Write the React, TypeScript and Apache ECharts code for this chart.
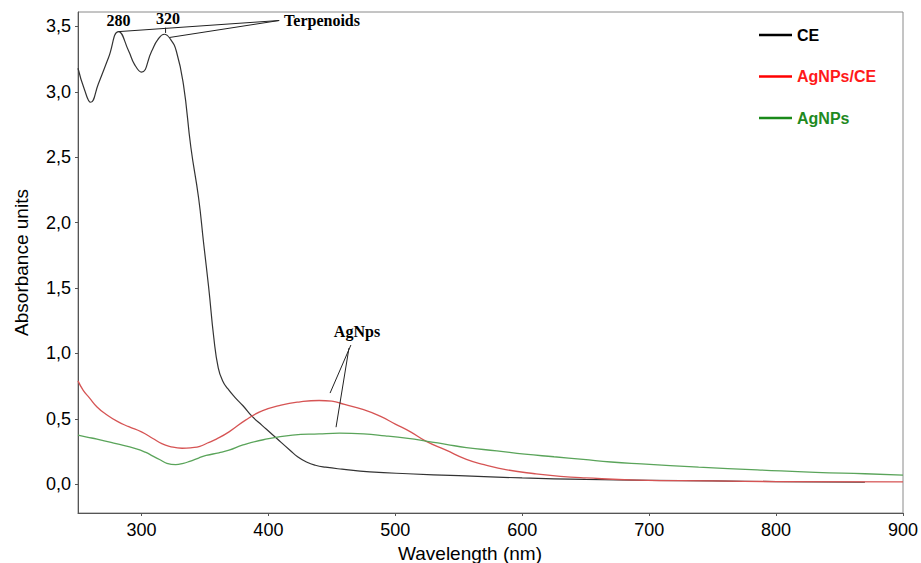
import React, { useEffect, useRef } from "react";
import * as echarts from "echarts";

const xTicks = [300, 400, 500, 600, 700, 800, 900];
const yTicks = [0, 0.5, 1.0, 1.5, 2.0, 2.5, 3.0, 3.5];

const ceData: [number, number][] = [
  [250, 3.18], [255, 3.02], [260, 2.92], [266, 3.06], [274, 3.26], [282, 3.46],
  [290, 3.31], [294.5, 3.21], [300, 3.15], [308, 3.31], [313, 3.40], [318, 3.44],
  [323, 3.40], [327.5, 3.31], [333, 3.06], [339, 2.57], [345, 2.19], [349, 1.84],
  [353, 1.50], [357, 1.12], [360.5, 0.89], [364, 0.79], [368, 0.73], [374, 0.66],
  [380, 0.60], [387, 0.52], [395, 0.45], [402, 0.39], [410, 0.32], [417, 0.26],
  [423, 0.21], [430, 0.17], [437, 0.145], [445, 0.13], [458, 0.115], [480, 0.095],
  [510, 0.08], [550, 0.065], [600, 0.048], [650, 0.037], [700, 0.03], [750, 0.025],
  [800, 0.02], [870, 0.015],
];

const agCeData: [number, number][] = [
  [250, 0.79], [254, 0.72], [259, 0.66], [265, 0.59], [272, 0.535], [281, 0.48],
  [290, 0.44], [300, 0.40], [309, 0.35], [316, 0.31], [322, 0.29], [332, 0.275],
  [340, 0.28], [346, 0.29], [352, 0.315], [359, 0.345], [369, 0.40], [382, 0.49],
  [395, 0.56], [410, 0.605], [425, 0.63], [440, 0.64], [450, 0.635], [460, 0.61],
  [475, 0.57], [488, 0.52], [500, 0.46], [512, 0.40], [524, 0.33], [540, 0.26],
  [556, 0.19], [570, 0.15], [588, 0.11], [610, 0.08], [630, 0.06], [650, 0.048],
  [690, 0.032], [750, 0.025], [800, 0.02], [900, 0.018],
];

const agData: [number, number][] = [
  [250, 0.375], [257, 0.36], [265, 0.345], [280, 0.31], [296, 0.27], [303, 0.245],
  [309, 0.215], [315, 0.185], [320, 0.16], [327, 0.15], [333, 0.16], [338, 0.175],
  [345, 0.2], [351, 0.22], [361, 0.24], [369, 0.26], [380, 0.30], [396, 0.34],
  [419, 0.375], [440, 0.385], [456, 0.39], [475, 0.385], [492, 0.37], [510, 0.35],
  [524, 0.33], [540, 0.305], [556, 0.28], [580, 0.255], [602, 0.23], [625, 0.21],
  [648, 0.19], [670, 0.17], [694, 0.155], [739, 0.13], [785, 0.11], [831, 0.09],
  [870, 0.08], [900, 0.07],
];

const annoTexts = [
  { text: "280", at: [282, 3.545], align: "center" },
  { text: "320", at: [321, 3.56], align: "center" },
  { text: "Terpenoids", at: [412.4, 3.545], align: "left" },
  { text: "AgNps", at: [469.8, 1.17], align: "center" },
];

const annoLines: [number, number][][] = [
  [[408.5, 3.545], [282, 3.46]],
  [[408.5, 3.545], [322, 3.415]],
  [[319, 3.49], [319, 3.45]],
  [[465, 1.064], [448.6, 0.697]],
  [[463.5, 1.041], [453.3, 0.436]],
];

const fmt = (v: number) => v.toFixed(1).replace(".", ",");

export default function App() {
  const ref = useRef<HTMLDivElement>(null);
  useEffect(() => {
    document.body.style.margin = "0";
    const chart = echarts.init(ref.current!, null, { renderer: "svg" });
    const sans = "Liberation Sans";
    chart.setOption({
      animation: false,
      backgroundColor: "#fff",
      grid: {
        left: 78, right: 18, top: 12, bottom: 50,
        containLabel: false, outerBoundsMode: "none",
        show: true, borderColor: "#8a8a8a", borderWidth: 1,
      },
      legend: {
        orient: "vertical", left: 754, top: 21,
        icon: "rect", itemWidth: 33, itemHeight: 2.5, itemGap: 23.5,
        textStyle: { fontFamily: sans, fontSize: 16, fontWeight: "bold", lineHeight: 18 },
        data: [
          { name: "CE", textStyle: { color: "#000" } },
          { name: "AgNPs/CE", textStyle: { color: "#ff1a1a" } },
          { name: "AgNPs", textStyle: { color: "#1f8a1f" } },
        ],
      },
      xAxis: {
        type: "value", min: 250, max: 900,
        name: "Wavelength (nm)", nameLocation: "middle", nameGap: 26,
        nameTextStyle: { fontFamily: sans, fontSize: 19, lineHeight: 20, color: "#000", padding: [0, 41, 0, 0] },
        axisLine: { onZero: false, lineStyle: { color: "#555", width: 1 } },
        axisTick: { show: true, length: 3, customValues: xTicks, lineStyle: { color: "#555" } },
        axisLabel: { customValues: xTicks, fontFamily: sans, fontSize: 18, color: "#000", margin: 8 },
        splitLine: { show: false },
      },
      yAxis: {
        type: "value", min: -0.22, max: 3.61,
        name: "Absorbance units", nameLocation: "middle", nameGap: 47,
        nameTextStyle: { fontFamily: sans, fontSize: 19, color: "#000" },
        axisLine: { show: true, onZero: false, lineStyle: { color: "#555", width: 1 } },
        axisTick: { show: true, length: 3, customValues: yTicks, lineStyle: { color: "#555" } },
        axisLabel: { customValues: yTicks, formatter: fmt, fontFamily: sans, fontSize: 18, color: "#000", margin: 7 },
        splitLine: { show: false },
      },
      series: [
        { name: "CE", type: "line", data: ceData, showSymbol: false, symbol: "none", smooth: 0.5, color: "#000", lineStyle: { color: "#333", width: 1.2 } },
        { name: "AgNPs/CE", type: "line", data: agCeData, showSymbol: false, symbol: "none", smooth: 0.5, color: "#ff0000", lineStyle: { color: "#d65454", width: 1.3 } },
        { name: "AgNPs", type: "line", data: agData, showSymbol: false, symbol: "none", smooth: 0.5, color: "#1a8a1a", lineStyle: { color: "#5aa45a", width: 1.3 } },
      ],
    });
    const px = (p: number[]) => chart.convertToPixel({ gridIndex: 0 }, p) as number[];
    const graphic: any[] = [];
    annoLines.forEach((l) => {
      const a = px(l[0]);
      const b = px(l[1]);
      graphic.push({ type: "line", shape: { x1: a[0], y1: a[1], x2: b[0], y2: b[1] }, style: { stroke: "#222", lineWidth: 1 }, z: 10 });
    });
    annoTexts.forEach((t) => {
      const p = px(t.at);
      graphic.push({
        type: "text", x: p[0], y: p[1], z: 11,
        style: { text: t.text, fill: "#000", font: 'bold 16px "Liberation Serif"', align: t.align, verticalAlign: "middle" },
      });
    });
    chart.setOption({ graphic });
    return () => chart.dispose();
  }, []);
  return <div ref={ref} style={{ width: 921, height: 563 }} />;
}
